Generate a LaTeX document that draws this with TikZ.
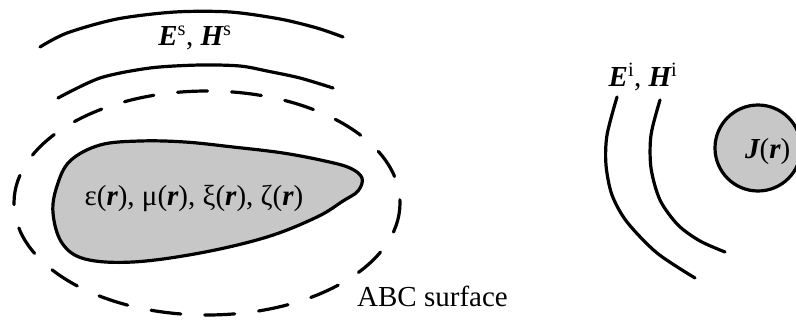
\documentclass[tikz,border=0pt]{standalone}
\usepackage{fontspec}
\setmainfont{Liberation Serif}
\newcommand\bitx[1]{{\bfseries\itshape #1}}
\tikzset{
  wave/.style={line width=3.2pt, line cap=round},
  surf/.style={line width=3.2pt, dash pattern=on 30pt off 24pt, line cap=round},
  body/.style={line width=3.2pt, fill=black!22},
  lbl/.style={inner sep=0pt, font=\fontsize{29}{32}\selectfont}
}
\begin{document}
\begin{tikzpicture}[x=1pt,y=-1pt]
\useasboundingbox (0,0) rectangle (796,327);
\clip (0,0) rectangle (796,327);
% scattered field wavefronts
\draw[wave] plot[smooth] coordinates {(40,47) (67,33) (117,19) (175,12) (230,12) (280,19) (317,28) (343,37)};
\draw[wave] plot[smooth] coordinates {(58,98) (100,78) (150,68) (200,65) (240,66) (267,71) (300,78) (333,88)};
\node[lbl, anchor=base] (es) at (195,45) {\bitx{E}\textsuperscript{s}, \bitx{H}\textsuperscript{s}};
% ABC surface
\draw[surf] (207,203) ellipse [x radius=193, y radius=112];
\node[lbl, anchor=base west] (abc) at (357,306) {ABC surface};
% scatterer
\draw[body] plot[smooth cycle, tension=0.6] coordinates {(100,145) (140,141) (185,142) (233,147) (283,153) (325,161) (350,168) (362,178) (358,191) (343,201) (317,217) (267,237) (200,253) (133,262) (85,259) (62,243) (53,213) (57,186) (70,161)};
\node[lbl, anchor=base] (mat) at (194,205) {ε(\bitx{r}), μ(\bitx{r}), ξ(\bitx{r}), ζ(\bitx{r})};
% incident field
\draw[wave] plot[smooth] coordinates {(617,97) (607,135) (606,165) (612,195) (627,222) (657,253) (695,278)};
\draw[wave] plot[smooth] coordinates {(660,100) (651,135) (651,168) (660,200) (678,225) (700,241) (725,252)};
\node[lbl, anchor=base] (ei) at (643,86) {\bitx{E}\textsuperscript{i}, \bitx{H}\textsuperscript{i}};
% source
\draw[body] (758,148) circle [radius=43];
\node[lbl, anchor=base west] (src) at (745,158) {\bitx{J}(\bitx{r})};
\end{tikzpicture}
\end{document}
